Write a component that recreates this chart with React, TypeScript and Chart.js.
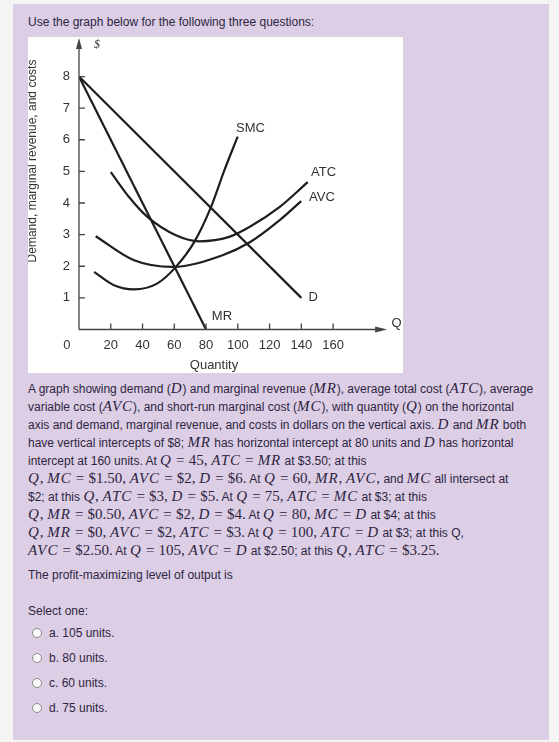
import React, { useEffect, useRef } from 'react';
import Chart from 'chart.js/auto';

// values (Quantity, dollars)
const demandLine = [{ x: 0, y: 8 }, { x: 140, y: 1 }];
const mrLine = [{ x: 0, y: 8 }, { x: 80, y: 0 }];
const smcCurve = [
  { x: 9.5, y: 1.82 }, { x: 22, y: 1.4 }, { x: 34.7, y: 1.27 }, { x: 49.4, y: 1.46 },
  { x: 61, y: 1.98 }, { x: 72.6, y: 2.77 }, { x: 83.1, y: 3.87 }, { x: 91.5, y: 5.03 },
  { x: 99.9, y: 6.1 },
];
const atcCurve = [
  { x: 20, y: 4.98 }, { x: 31.5, y: 4.19 }, { x: 43.1, y: 3.56 }, { x: 61, y: 2.98 },
  { x: 75.7, y: 2.79 }, { x: 94.6, y: 2.93 }, { x: 107.3, y: 3.24 }, { x: 126.2, y: 3.87 },
  { x: 144, y: 4.66 },
];
const avcCurve = [
  { x: 10.5, y: 2.95 }, { x: 34.7, y: 2.19 }, { x: 58.9, y: 1.98 }, { x: 90.4, y: 2.35 },
  { x: 107.3, y: 2.75 }, { x: 126.2, y: 3.45 }, { x: 139.9, y: 4.06 },
];
const xTicks = [20, 40, 60, 80, 100, 120, 140, 160];
const yTicks = [1, 2, 3, 4, 5, 6, 7, 8];

const curveLabels = [
  { text: 'SMC', x: 108, y: 6.37 },
  { text: 'ATC', x: 154, y: 4.98 },
  { text: 'AVC', x: 153, y: 4.19 },
  { text: 'D', x: 147.5, y: 1.0 },
  { text: 'MR', x: 90, y: 0.4 },
];

const INK = '#1e1e1e';
const AXIS = '#444';
const SANS = '"Liberation Sans", Arial, sans-serif';
const SERIF = '"Liberation Serif", "Times New Roman", serif';
const TEXT = '#2e2442';

const econAxes = {
  id: 'econAxes',
  afterDraw(chart: any) {
    const { ctx, scales } = chart;
    const xs = scales.x;
    const ys = scales.y;
    const x0 = xs.getPixelForValue(0);
    const y0 = ys.getPixelForValue(0);
    const xEnd = xs.getPixelForValue(194);
    const yEnd = ys.getPixelForValue(9.22);
    ctx.save();
    ctx.strokeStyle = AXIS;
    ctx.fillStyle = AXIS;
    ctx.lineWidth = 1.3;
    ctx.beginPath();
    ctx.moveTo(x0, y0);
    ctx.lineTo(xEnd - 8, y0);
    ctx.moveTo(x0, y0);
    ctx.lineTo(x0, yEnd + 8);
    xTicks.forEach((v) => {
      const p = xs.getPixelForValue(v);
      ctx.moveTo(p, y0);
      ctx.lineTo(p, y0 - 6);
    });
    yTicks.forEach((v) => {
      const p = ys.getPixelForValue(v);
      ctx.moveTo(x0, p);
      ctx.lineTo(x0 + 6, p);
    });
    ctx.stroke();
    // arrow heads
    ctx.beginPath();
    ctx.moveTo(xEnd, y0);
    ctx.lineTo(xEnd - 12, y0 - 3);
    ctx.lineTo(xEnd - 12, y0 + 3);
    ctx.closePath();
    ctx.moveTo(x0, yEnd);
    ctx.lineTo(x0 - 3, yEnd + 11);
    ctx.lineTo(x0 + 3, yEnd + 11);
    ctx.closePath();
    ctx.fill();

    ctx.fillStyle = '#333';
    ctx.textBaseline = 'middle';
    ctx.font = `13px ${SANS}`;
    ctx.textAlign = 'center';
    curveLabels.forEach((l) => {
      ctx.fillText(l.text, xs.getPixelForValue(l.x), ys.getPixelForValue(l.y));
    });
    ctx.fillText('Q', xs.getPixelForValue(200), ys.getPixelForValue(0.2));
    ctx.fillText('0', xs.getPixelForValue(-7.6), ys.getPixelForValue(-0.49));
    ctx.font = `italic 12px ${SERIF}`;
    ctx.fillText('$', xs.getPixelForValue(11.3), ys.getPixelForValue(9.0));

    ctx.font = `12px ${SANS}`;
    ctx.translate(5, 124);
    ctx.rotate(-Math.PI / 2);
    ctx.fillText('Demand, marginal revenue, and costs', 0, 0);
    ctx.restore();
  },
};

function CostChart() {
  const canvasRef = useRef<HTMLCanvasElement>(null);
  const chartRef = useRef<Chart | null>(null);

  useEffect(() => {
    if (!canvasRef.current) return;
    const line = (data: { x: number; y: number }[], curved: boolean) => ({
      data,
      borderColor: INK,
      borderWidth: 2.2,
      pointRadius: 0,
      fill: false,
      cubicInterpolationMode: curved ? ('monotone' as const) : ('default' as const),
      tension: 0,
    });

    chartRef.current = new Chart(canvasRef.current, {
      type: 'line',
      data: {
        datasets: [
          line(demandLine, false),
          line(mrLine, false),
          line(smcCurve, true),
          line(atcCurve, true),
          line(avcCurve, true),
        ],
      },
      options: {
        animation: false,
        responsive: false,
        layout: { padding: { left: 0, right: 54, top: 0, bottom: 0 } },
        plugins: { legend: { display: false }, tooltip: { enabled: false } },
        scales: {
          x: {
            type: 'linear',
            min: 0,
            max: 170,
            afterFit: (s: any) => {
              s.height = 43.5;
              s.paddingLeft = 0;
              s.paddingRight = 0;
            },
            afterBuildTicks: (s: any) => { s.ticks = xTicks.map((value) => ({ value })); },
            grid: { display: false, drawTicks: false },
            border: { display: false },
            ticks: { color: '#333', font: { family: SANS, size: 13 }, padding: 7.7, maxRotation: 0, autoSkip: false },
            title: { display: true, text: 'Quantity', color: '#333', font: { family: SANS, size: 13 }, padding: { top: 0, bottom: 0 } },
          },
          y: {
            type: 'linear',
            min: 0,
            max: 9.25,
            afterFit: (s: any) => {
              s.width = 51;
              s.paddingTop = 0;
              s.paddingBottom = 0;
            },
            afterBuildTicks: (s: any) => { s.ticks = yTicks.map((value) => ({ value })); },
            grid: { display: false, drawTicks: false },
            border: { display: false },
            ticks: { color: '#333', font: { family: SANS, size: 13 }, padding: 9, autoSkip: false },
          },
        },
      },
      plugins: [econAxes],
    });

    return () => {
      chartRef.current?.destroy();
      chartRef.current = null;
    };
  }, []);

  return <canvas ref={canvasRef} width={375} height={336} style={{ display: 'block' }} />;
}

// inline math: letters italic, '=' with relation spacing, the rest upright serif
function M({ t }: { t: string }) {
  return (
    <span style={{ fontFamily: SERIF, fontSize: 15, lineHeight: '10px' }}>
      {t.split(/([A-Za-z]+|=)/).map((p, i) => {
        if (p === '=') return <span key={i} style={{ margin: '0 0.28em' }}>=</span>;
        if (/[A-Za-z]/.test(p)) return <i key={i} style={{ letterSpacing: '0.06em' }}>{p}</i>;
        return p;
      })}
    </span>
  );
}

const options = ['a. 105 units.', 'b. 80 units.', 'c. 60 units.', 'd. 75 units.'];

const paragraph = [
  <>A graph showing demand (<M t="D" />) and marginal revenue (<M t="MR" />), average total cost (<M t="ATC" />), average</>,
  <>variable cost (<M t="AVC" />), and short-run marginal cost (<M t="MC" />), with quantity (<M t="Q" />) on the horizontal</>,
  <>axis and demand, marginal revenue, and costs in dollars on the vertical axis. <M t="D" /> and <M t="MR" /> both</>,
  <>have vertical intercepts of $8; <M t="MR" /> has horizontal intercept at 80 units and <M t="D" /> has horizontal</>,
  <>intercept at 160 units. At <M t="Q=45, ATC=MR" /> at $3.50; at this</>,
  <><M t="Q, MC=$1.50, AVC=$2, D=$6." /> At <M t="Q=60, MR, AVC," /> and <M t="MC" /> all intersect at</>,
  <>$2; at this <M t="Q, ATC=$3, D=$5." /> At <M t="Q=75, ATC=MC" /> at $3; at this</>,
  <><M t="Q, MR=$0.50, AVC=$2, D=$4." /> At <M t="Q=80, MC=D" /> at $4; at this</>,
  <><M t="Q, MR=$0, AVC=$2, ATC=$3." /> At <M t="Q=100, ATC=D" /> at $3; at this Q,</>,
  <><M t="AVC=$2.50." /> At <M t="Q=105, AVC=D" /> at $2.50; at this <M t="Q, ATC=$3.25." /></>,
];

export default function App() {
  const abs = (top: number, left: number): React.CSSProperties => ({ position: 'absolute', top, left, whiteSpace: 'nowrap' });
  return (
    <div style={{ position: 'absolute', top: 0, left: 0, width: 559, height: 742, background: '#f4f4f4', fontFamily: SANS, fontSize: 12, color: TEXT, lineHeight: '18px', overflow: 'hidden' }}>
      <div style={{ position: 'absolute', top: 4, left: 13, width: 536, height: 736, background: '#dccfe5' }} />
      <div style={abs(13, 28)}>Use the graph below for the following three questions:</div>
      <div style={{ position: 'absolute', top: 37, left: 28, width: 375, height: 336, background: '#fff' }}>
        <CostChart />
      </div>
      {paragraph.map((content, i) => (
        <div key={i} style={{ ...abs(380 + i * 18, 28), height: 18 }}>{content}</div>
      ))}
      <div style={abs(566, 28)}>The profit-maximizing level of output is</div>
      <div style={abs(602, 28)}>Select one:</div>
      {options.map((o, i) => (
        <div key={o} style={abs(624 + i * 25, 32)}>
          <span style={{ display: 'inline-block', width: 8, height: 8, borderRadius: '50%', border: '1px solid #8a8a8a', background: '#fbfbfb', verticalAlign: 'middle', marginRight: 7, position: 'relative', top: -1 }} />
          {o}
        </div>
      ))}
    </div>
  );
}
